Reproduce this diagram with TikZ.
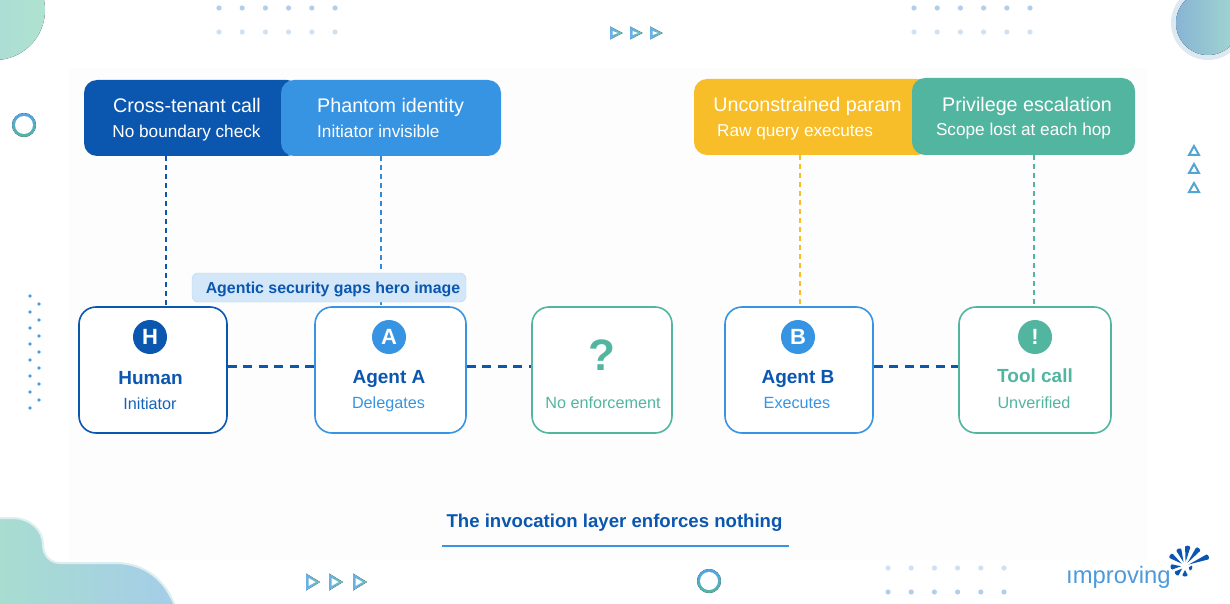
\documentclass[tikz,border=0pt]{standalone}
\usepackage{fontspec}
\setmainfont{Liberation Sans}
\usepackage{xcolor}
\usetikzlibrary{positioning}

\definecolor{navyblue}{HTML}{0B57B0}
\definecolor{skyblue}{HTML}{3794E3}
\definecolor{mintgreen}{HTML}{52B5A0}
\definecolor{amber}{HTML}{F7BE29}
\definecolor{paleblue}{HTML}{D3E7F8}
\definecolor{panelgray}{HTML}{FDFDFE}
\definecolor{dotblue}{HTML}{B3CEE8}
\definecolor{dotpale}{HTML}{CFE1F3}
\definecolor{blobmint}{HTML}{A8DDD0}
\definecolor{blobblue}{HTML}{A5CDE8}
\definecolor{blobedge}{HTML}{DCEEF0}
\definecolor{discteal}{HTML}{A6D8D8}
\definecolor{discmint}{HTML}{B0E2D0}
\definecolor{moonblue}{HTML}{88B4D4}
\definecolor{moonteal}{HTML}{A3D8D0}
\definecolor{moonring}{HTML}{DDE9F2}
\definecolor{logoblue}{HTML}{4C9ADB}

\tikzset{
    callout/.style={rectangle, rounded corners=13pt, inner sep=0pt, minimum height=76pt},
    calltitle/.style={text=white, inner sep=0pt, anchor=base, font=\fontsize{19.7}{22}\selectfont},
    callsub/.style={text=white, inner sep=0pt, anchor=base, font=\fontsize{17.2}{19}\selectfont},
    actorbox/.style={draw=#1, rectangle, rounded corners=17pt, line width=1.6pt, fill=white,
        inner sep=0pt, minimum height=126pt},
    badge/.style={circle, fill=#1, text=white, inner sep=0pt, minimum size=34pt,
        font=\bfseries\fontsize{22}{24}\selectfont},
    actorname/.style={text=#1, inner sep=0pt, anchor=base, font=\bfseries\fontsize{19}{22}\selectfont},
    actorrole/.style={text=#1, inner sep=0pt, anchor=base, font=\fontsize{16.2}{18}\selectfont},
    linkline/.style={draw=navyblue, line width=3pt, dash pattern=on 9pt off 6.5pt},
    dropline/.style={draw=#1, line width=1.3pt, dash pattern=on 5pt off 4pt}
}

\begin{document}
\begin{tikzpicture}[x=1pt, y=-1pt]
        \useasboundingbox (0,0) rectangle (1230,604);
        \clip (0,0) rectangle (1230,604);
        % Faint panel
        \fill[white] (0,0) rectangle (1230,604);
        \fill[panelgray] (69,68) rectangle (1147,560);
        % Corner shapes
        \fill[left color=discteal, right color=discmint] (-5,10) circle (50);
        \fill[moonring] (1208,23) circle (37);
        \fill[left color=moonblue, right color=moonteal] (1208,23) circle (32);
        \draw[draw=blobedge, line width=2pt, left color=blobmint, right color=blobblue]
            (-2,518) -- (12,518) .. controls (30,518) and (43,530) .. (43,545)
            .. controls (43,555) and (50,563) .. (60,563) -- (115,563)
            .. controls (145,563) and (165,580) .. (175,606) -- (-2,606) -- cycle;
        % Dot grids
        \foreach \x/\y/\c in {219/8/dotblue, 219/32/dotpale, 914/8/dotblue, 914/32/dotpale, 888/568/dotpale, 888/592/dotblue} {
            \foreach \i in {0,...,5} {
                \fill[\c] ({\x+\i*23.2},\y) circle (2.6);
            }
        }
        \foreach \i in {0,...,7} {
            \fill[skyblue!90] (30,{296+\i*16}) circle (1.9);
        }
        \foreach \i in {0,...,6} {
            \fill[skyblue!90] (39,{304+\i*16}) circle (1.9);
        }
        % Rings
        \foreach \x/\y in {24/125, 709/581} {
            \fill[top color=skyblue!85, bottom color=mintgreen] (\x,\y) circle (12);
            \fill[white] (\x,\y) circle (9);
        }
        % Small triangles
        \foreach \x/\y/\w/\h in {610/33/12.5/6.5, 630/33/12.5/6.5, 650/33/12.5/6.5, 306/582/14/8.5, 329/582/14/8.5, 353/582/14/8.5} {
            \fill[left color=skyblue!75, right color=mintgreen!85] (\x,\y-\h) -- (\x+\w,\y) -- (\x,\y+\h) -- cycle;
            \fill[white] (\x+2.6,\y-\h+4.6) -- (\x+\w-4.4,\y) -- (\x+2.6,\y+\h-4.6) -- cycle;
        }
        \foreach \y in {145,163,182} {
            \draw[skyblue!70!teal!80, line width=2pt, fill=white, line join=miter] (1194,\y+1) -- (1199,\y+10) -- (1189,\y+10) -- cycle;
        }
        % Callouts
        \node[callout, fill=navyblue, minimum width=216pt] (cross) at (192,118) {};
        \node[callout, fill=skyblue, minimum width=220pt] (phantom) at (391,118) {};
        \node[callout, fill=amber, minimum width=236pt, minimum height=76pt] (param) at (812,117) {};
        \node[callout, fill=mintgreen, minimum width=223pt, minimum height=77pt] (escal) at (1023.5,116.5) {};
        \node[calltitle] (crosst) at (187,113) {Cross-tenant call};
        \node[callsub] (crosss) at (186.5,138) {No boundary check};
        \node[calltitle, anchor=base west] (phantomt) at (317,113) {Phantom identity};
        \node[callsub, anchor=base west] (phantoms) at (317,137.5) {Initiator invisible};
        \node[calltitle] (paramt) at (807.5,111.5) {Unconstrained param};
        \node[callsub] (params) at (795,136.5) {Raw query executes};
        \node[calltitle] (escalt) at (1027,111.5) {Privilege escalation};
        \node[callsub] (escals) at (1023.5,136) {Scope lost at each hop};
        % Actor boxes
        \node[actorbox=navyblue, minimum width=148pt] (human) at (153,370) {};
        \node[actorbox=skyblue, minimum width=151pt] (agenta) at (390.5,370) {};
        \node[actorbox=mintgreen, minimum width=140pt] (gap) at (602,370) {};
        \node[actorbox=skyblue, minimum width=148pt] (agentb) at (799,370) {};
        \node[actorbox=mintgreen, minimum width=152pt] (tool) at (1035,370) {};
        % Drop lines
        \draw[dropline=navyblue] ([xshift=-26pt]cross.south) -- ([xshift=13pt]human.north);
        \draw[dropline=skyblue!85!navyblue] ([xshift=-10pt]phantom.south) -- ([xshift=-9.5pt]agenta.north);
        \draw[dropline=amber] ([xshift=-12pt]param.south) -- ([xshift=1pt]agentb.north);
        \draw[dropline=mintgreen] ([xshift=10.5pt]escal.south) -- ([xshift=-1pt]tool.north);
        % Links
        \draw[linkline] (human.east |- 0,366) -- (agenta.west |- 0,366);
        \draw[linkline] (agenta.east |- 0,366) -- (gap.west |- 0,366);
        \draw[linkline] (agentb.east |- 0,366) -- (tool.west |- 0,366);
        % Title tag
        \node[rectangle, rounded corners=6pt, fill=paleblue, draw=paleblue!80!skyblue, line width=0.4pt,
            minimum width=274pt, minimum height=29pt, inner sep=0pt] (tag) at (329,287.5) {};
        \node[text=navyblue, inner sep=0pt, anchor=base, font=\bfseries\fontsize{15.9}{18}\selectfont] (tagtext) at (333,293) {Agentic security gaps hero image};
        % Box contents
        \node[badge=navyblue] (hbadge) at (150,337) {H};
        \node[actorname=navyblue] (hname) at (150.5,384) {Human};
        \node[actorrole=navyblue!80!skyblue] (hrole) at (150,409) {Initiator};
        \node[badge=skyblue] (abadge) at (389,337) {A};
        \node[actorname=navyblue] (aname) at (389,383.5) {Agent A};
        \node[actorrole=skyblue] (arole) at (388.5,408.5) {Delegates};
        \node[text=mintgreen, inner sep=0pt, anchor=base, font=\bfseries\fontsize{44}{46}\selectfont] (qmark) at (601.5,370) {?};
        \node[actorrole=mintgreen] (gaprole) at (603,408.5) {No enforcement};
        \node[badge=skyblue] (bbadge) at (798,337) {B};
        \node[actorname=navyblue] (bname) at (798,383) {Agent B};
        \node[actorrole=skyblue] (brole) at (797,408) {Executes};
        \node[badge=mintgreen] (tbadge) at (1035,337) {!};
        \node[actorname=mintgreen] (tname) at (1035,382.5) {Tool call};
        \node[actorrole=mintgreen] (trole) at (1034,408) {Unverified};
        % Caption
        \node[text=navyblue, inner sep=0pt, anchor=base, font=\bfseries\fontsize{18.6}{22}\selectfont] (caption) at (614.5,527) {The invocation layer enforces nothing};
        \coordinate (ruleleft) at (442,546);
        \coordinate (ruleright) at (789,546);
        \draw[skyblue, line width=1.5pt] (ruleleft) -- (ruleright);
        % Logo
        \node[text=logoblue, inner sep=0pt, anchor=base west, font=\fontsize{23.8}{26}\selectfont] (logo) at (1066,583) {ımproving};
        \foreach \a/\s in {111/19, 82/21, 52/23, 22/26, 144/19, 184/15, 222/13, 270/11, 340/8} {
            \begin{scope}[shift={(1185,566)}, rotate=\a]
                \fill[navyblue] (4,0) -- (\s-2,-2.6) .. controls (\s,-2.6) and (\s,2.6) .. (\s-2,2.6) -- cycle;
            \end{scope}
        }
    \end{tikzpicture}
\end{document}
